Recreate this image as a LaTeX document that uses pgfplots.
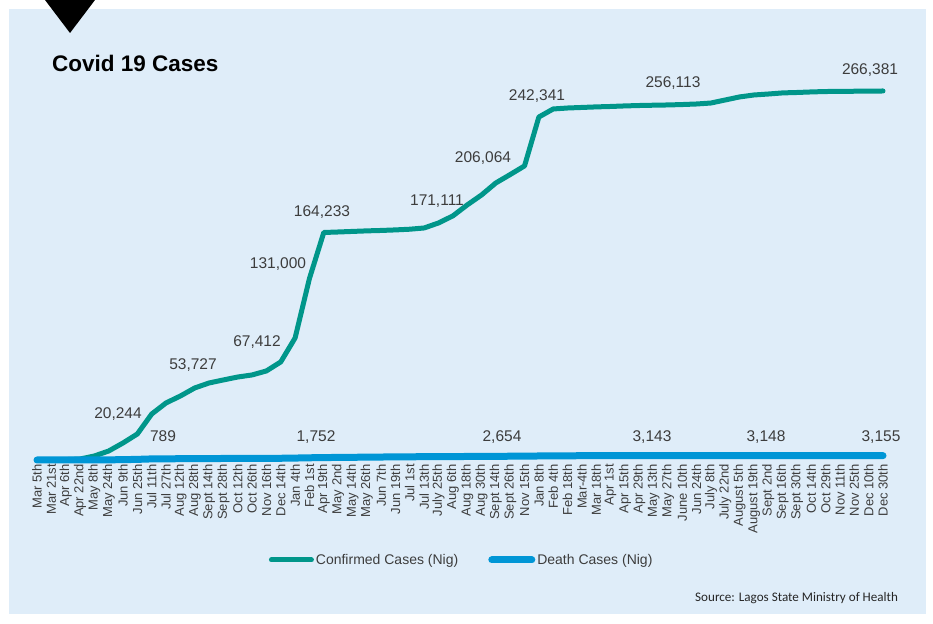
\documentclass[border=0pt]{standalone}
\usepackage{pgfplots}
\pgfplotsset{compat=1.18}
\usepackage{fontspec}
\setmainfont{Liberation Sans}
\newfontfamily\srcfont{Carlito}
\definecolor{bgblue}{HTML}{DFEDF9}
\definecolor{teal1}{HTML}{00968A}
\definecolor{blue1}{HTML}{0096D6}
\definecolor{lblgray}{HTML}{3D3D3D}
\begin{document}
\begin{tikzpicture}
\fill[white] (0pt,0pt) rectangle (933pt,623pt);
\fill[bgblue] (9pt,9pt) rectangle (926pt,614pt);
\fill[black] (45pt,623pt) -- (95pt,623pt) -- (70pt,590pt) -- cycle;
\node[anchor=base west, inner sep=0pt, font=\fontsize{22.5}{24}\selectfont\bfseries] at (52pt,551pt) {Covid 19 Cases};
\begin{axis}[
  at={(37pt,163pt)}, anchor=south west, scale only axis,
  width=846pt, height=369pt,
  xmin=0, xmax=59, ymin=0, ymax=266381,
  clip=false, axis line style={draw=none},
  ytick=\empty, major tick length=0pt,
  xtick={0,...,59},
  xticklabels={Mar 5th,Mar 21st,Apr 6th,Apr 22nd,May 8th,May 24th,Jun 9th,Jun 25th,Jul 11th,Jul 27th,Aug 12th,Aug 28th,Sept 14th,Sept 28th,Oct 12th,Oct 26th,Nov 16th,Dec 14th,Jan 4th,Feb 1st,Apr 19th,May 2nd,May 14th,May 26th,Jun 7th,Jun 19th,Jul 1st,Jul 13th,July 25th,Aug 6th,Aug 18th,Aug 30th,Sept 14th,Sept 26th,Nov 15th,Jan 8th,Feb 4th,Feb 18th,Mar-4th,Mar 18th,Apr 1st,Apr 15th,Apr 29th,May 13th,May 27th,June 10th,Jun 24th,July 8th,July 22nd,August 5th,August 19th,Sept 2nd,Sept 16th,Sept 30th,Oct 14th,Oct 29th,Nov 11th,Nov 25th,Dec 10th,Dec 30th},
  xticklabel style={yshift=-4pt, rotate=90, anchor=east, inner sep=0pt, text=lblgray, font=\fontsize{13}{13}\selectfont},
  legend columns=2,
  legend style={at={(0.502,-0.271)}, anchor=center, draw=none, fill=none, font=\fontsize{14}{15}\selectfont, text=lblgray,
    /tikz/every even column/.append style={column sep=28pt}},
  legend image code/.code={\draw[#1, line cap=round] (0pt,0pt) -- (40pt,0pt);},
]
\addplot[teal1, line width=5pt, line cap=round, line join=round] coordinates {
(0,0)(1,100)(2,300)(3,700)(4,2900)(5,6500)(6,12300)(7,18800)(8,33200)(9,41200)
(10,46200)(11,52000)(12,55600)(13,57800)(14,59900)(15,61400)(16,64300)(17,70800)(18,88100)(19,131000)
(20,164233)(21,164600)(22,165000)(23,165400)(24,165700)(25,166100)(26,166600)(27,167500)(28,171111)(29,176200)
(30,184100)(31,191300)(32,200000)(33,206064)(34,212300)(35,247600)(36,253400)(37,254100)(38,254500)(39,254900)
(40,255200)(41,255600)(42,255900)(43,256113)(44,256300)(45,256600)(46,257000)(47,257700)(48,259900)(49,262100)
(50,263500)(51,264200)(52,265000)(53,265300)(54,265700)(55,266000)(56,266100)(57,266200)(58,266300)(59,266381)
};
\addlegendentry{Confirmed Cases (Nig)}
\addplot[blue1, line width=7pt, line cap=round, line join=round] coordinates {
(0,0)(1,5)(2,15)(3,30)(4,60)(5,120)(6,250)(7,450)(8,789)(9,850)
(10,930)(11,1000)(12,1050)(13,1090)(14,1120)(15,1150)(16,1190)(17,1250)(18,1400)(19,1600)
(20,1752)(21,1850)(22,1950)(23,2050)(24,2150)(25,2250)(26,2320)(27,2380)(28,2430)(29,2480)
(30,2540)(31,2600)(32,2654)(33,2720)(34,2800)(35,2900)(36,2990)(37,3050)(38,3080)(39,3100)
(40,3115)(41,3125)(42,3135)(43,3143)(44,3144)(45,3144)(46,3145)(47,3145)(48,3146)(49,3146)
(50,3147)(51,3148)(52,3149)(53,3150)(54,3151)(55,3152)(56,3153)(57,3153)(58,3154)(59,3155)
};
\addlegendentry{Death Cases (Nig)}
\end{axis}
\begin{scope}[every node/.style={anchor=base, inner sep=0pt, text=lblgray, font=\fontsize{15.5}{16}\selectfont}]
\node at (118pt,204.5pt) {20,244};
\node at (163pt,181.5pt) {789};
\node at (193pt,253.5pt) {53,727};
\node at (257pt,276.5pt) {67,412};
\node at (278pt,354.5pt) {131,000};
\node at (322pt,406.5pt) {164,233};
\node at (437pt,417.5pt) {171,111};
\node at (483pt,460.5pt) {206,064};
\node at (537pt,522.5pt) {242,341};
\node at (673pt,535.5pt) {256,113};
\node at (870pt,548.5pt) {266,381};
\node at (316pt,181.5pt) {1,752};
\node at (502pt,181.5pt) {2,654};
\node at (652pt,181.5pt) {3,143};
\node at (766pt,181.5pt) {3,148};
\node at (881pt,181.5pt) {3,155};
\end{scope}
\node[anchor=base west, inner sep=0pt, font=\srcfont\fontsize{13.1}{14}\selectfont, text=black!85] at (695pt,21pt) {Source: Lagos State Ministry of Health};
\end{tikzpicture}
\end{document}
